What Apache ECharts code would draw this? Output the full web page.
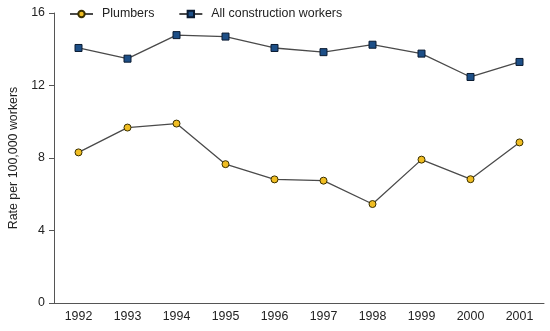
<!DOCTYPE html>
<html>
<head>
<meta charset="utf-8">
<script src="https://cdn.jsdelivr.net/npm/echarts@6/dist/echarts.min.js"></script>
<style>html,body{margin:0;padding:0;background:#fff}#c{width:550px;height:331px}</style>
</head>
<body>
<div id="c"></div>
<script>
var years = ['1992','1993','1994','1995','1996','1997','1998','1999','2000','2001'];
var plumbers = [8.31, 9.68, 9.90, 7.66, 6.82, 6.75, 5.46, 7.91, 6.83, 8.86];
var allConstruction = [14.07, 13.48, 14.78, 14.70, 14.07, 13.84, 14.25, 13.76, 12.47, 13.30];
var yTicks = [0, 4, 8, 12, 16];

var chart = echarts.init(document.getElementById('c'), null, {renderer: 'canvas'});
var font = 'Liberation Sans, Arial, Helvetica, sans-serif';
chart.setOption({
  animation: false,
  backgroundColor: '#fff',
  textStyle: {fontFamily: font},
  legend: {
    left: 69, top: 8, padding: 0,
    itemWidth: 23, itemHeight: 8, itemGap: 24,
    textStyle: {fontSize: 12.4, color: '#222', fontFamily: font, padding: [0, 0, 0, 4]},
    data: ['Plumbers', 'All construction workers']
  },
  grid: {left: 52, right: 6, top: 13, bottom: 28},
  xAxis: {
    type: 'category',
    data: years,
    boundaryGap: true,
    axisLine: {lineStyle: {color: '#555', width: 1}},
    axisTick: {alignWithLabel: true, length: 4, lineStyle: {color: '#555'}},
    axisLabel: {color: '#222', fontSize: 12.4, margin: 8, fontFamily: font}
  },
  yAxis: {
    type: 'value',
    min: yTicks[0], max: yTicks[yTicks.length - 1], interval: 4,
    name: 'Rate per 100,000 workers',
    nameLocation: 'middle', nameGap: 34,
    nameTextStyle: {fontSize: 12.4, color: '#222', fontFamily: font},
    axisLine: {show: true, lineStyle: {color: '#555', width: 1}},
    axisTick: {show: true, length: 5, lineStyle: {color: '#555'}},
    axisLabel: {color: '#222', fontSize: 12.4, margin: 9, fontFamily: font},
    splitLine: {show: false}
  },
  series: [
    {
      name: 'Plumbers', type: 'line', data: plumbers,
      symbol: 'circle', symbolSize: 7,
      lineStyle: {color: '#4a4a4a', width: 1.3},
      itemStyle: {color: '#f0bd22', borderColor: '#3a3000', borderWidth: 1}
    },
    {
      name: 'All construction workers', type: 'line', data: allConstruction,
      symbol: 'rect', symbolSize: 7,
      lineStyle: {color: '#4a4a4a', width: 1.3},
      itemStyle: {color: '#1d4f87', borderColor: '#0a1a30', borderWidth: 1}
    }
  ]
});
</script>
</body>
</html>
